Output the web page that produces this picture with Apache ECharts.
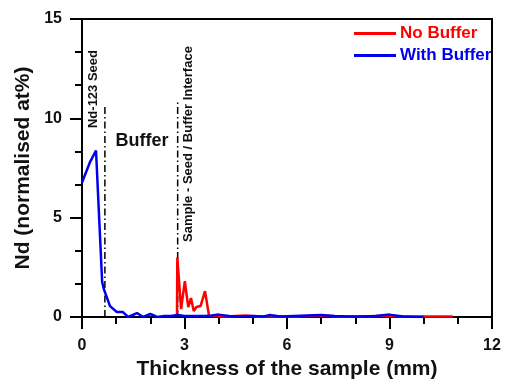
<!DOCTYPE html>
<html>
<head>
<meta charset="utf-8">
<script src="https://cdn.jsdelivr.net/npm/echarts@6/dist/echarts.min.js"></script>
<style>
  html, body { margin: 0; padding: 0; background: #fff; }
  #container { width: 505px; height: 385px; }
</style>
</head>
<body>
<div id="container"></div>
<script>
// 数据
var noBufferX = [2.78, 2.79, 2.9, 3.01, 3.11, 3.19, 3.27, 3.35, 3.47, 3.6, 3.72, 3.9, 4.2, 4.5, 4.8, 5.1, 5.4, 5.8, 6.2, 6.6, 7.0, 7.4, 7.8, 8.2, 8.6, 9.0, 9.4, 9.8, 10.2, 10.5, 10.85];
var noBufferY = [0.05, 3.0, 0.4, 1.8, 0.5, 0.95, 0.3, 0.5, 0.55, 1.3, 0.05, 0.05, 0.02, 0.05, 0.08, 0.03, 0.02, 0.02, 0.03, 0.05, 0.08, 0.03, 0.02, 0.02, 0.05, 0.05, 0.02, 0.02, 0.02, 0.02, 0.02];

var withBufferX = [0, 0.23, 0.41, 0.59, 0.64, 0.82, 1.02, 1.2, 1.35, 1.61, 1.79, 2.0, 2.2, 2.4, 2.6, 2.8, 3.0, 3.3, 3.6, 3.8, 4.0, 4.3, 4.6, 5.0, 5.3, 5.5, 5.8, 6.2, 6.6, 7.0, 7.4, 7.8, 8.2, 8.6, 9.0, 9.4, 9.8, 10.0];
var withBufferY = [6.77, 7.78, 8.38, 1.76, 1.4, 0.55, 0.25, 0.25, 0.0, 0.2, 0.0, 0.15, 0.0, 0.05, 0.05, 0.1, 0.05, 0.05, 0.05, 0.08, 0.12, 0.05, 0.02, 0.05, 0.02, 0.1, 0.02, 0.05, 0.08, 0.1, 0.05, 0.02, 0.02, 0.05, 0.12, 0.03, 0.0, 0.0];

// vertical dash-dot markers
var seedEdgeX = 0.67, seedEdgeTop = 10.65;
var interfaceX = 2.8, interfaceTop = 10.9;

var xTicks = [0, 3, 6, 9, 12];
var yTicks = [0, 5, 10, 15];

function pairs(xs, ys) {
  var out = [];
  for (var i = 0; i < xs.length; i++) out.push([xs[i], ys[i]]);
  return out;
}

var FONT = 'Liberation Sans, Arial, sans-serif';
var dashDot = [7, 3, 1.5, 3];

var dom = document.getElementById("container");
var myChart = echarts.init(dom);
var option = {
  backgroundColor: '#fff',
  animation: false,
  grid: {
    left: 82, right: 13, top: 19, bottom: 67,
    show: true, borderColor: '#000', borderWidth: 2, backgroundColor: 'transparent'
  },
  legend: {
    orient: 'vertical',
    left: 349, top: 20,
    itemWidth: 42, itemHeight: 3, itemGap: 5,
    icon: 'rect',
    data: [
      { name: 'No Buffer', textStyle: { color: '#ff0000' } },
      { name: 'With Buffer', textStyle: { color: '#0000ee' } }
    ],
    textStyle: { fontFamily: FONT, fontWeight: 'bold', fontSize: 17, padding: [0, 0, 0, -1] }
  },
  xAxis: {
    type: 'value',
    min: xTicks[0], max: xTicks[xTicks.length - 1], interval: 3,
    name: 'Thickness of the sample (mm)',
    nameLocation: 'middle', nameGap: 42,
    nameTextStyle: { fontFamily: FONT, fontWeight: 'bold', fontSize: 21, color: '#111' },
    axisLine: { lineStyle: { color: '#000', width: 2 } },
    axisTick: { length: 12, lineStyle: { color: '#000', width: 2 } },
    minorTick: { show: true, splitNumber: 3, length: 7, lineStyle: { color: '#000', width: 2 } },
    splitLine: { show: false },
    axisLabel: { margin: 21, fontFamily: FONT, fontWeight: 'bold', fontSize: 16, color: '#111' }
  },
  yAxis: {
    type: 'value',
    min: yTicks[0], max: yTicks[yTicks.length - 1], interval: 5,
    name: 'Nd (normalised at%)',
    nameLocation: 'middle', nameGap: 48,
    nameTextStyle: { fontFamily: FONT, fontWeight: 'bold', fontSize: 21, color: '#111' },
    axisLine: { show: true, lineStyle: { color: '#000', width: 2 } },
    axisTick: { show: true, length: 12, lineStyle: { color: '#000', width: 2 } },
    minorTick: { show: true, splitNumber: 3, length: 7, lineStyle: { color: '#000', width: 2 } },
    splitLine: { show: false },
    axisLabel: { margin: 20, fontFamily: FONT, fontWeight: 'bold', fontSize: 16, color: '#111' }
  },
  series: [
    {
      name: 'No Buffer',
      type: 'line',
      symbol: 'none',
      color: '#ff0000',
      lineStyle: { width: 2.5, color: '#ff0000' },
      data: pairs(noBufferX, noBufferY),
      z: 3
    },
    {
      name: 'With Buffer',
      type: 'line',
      symbol: 'none',
      color: '#0000ee',
      lineStyle: { width: 2.5, color: '#0000ee' },
      data: pairs(withBufferX, withBufferY),
      z: 4
    },
    {
      name: 'seed-edge',
      type: 'line',
      symbol: 'none',
      silent: true,
      lineStyle: { width: 1.5, color: '#000', type: dashDot },
      data: [[seedEdgeX, 0], [seedEdgeX, seedEdgeTop]],
      z: 2
    },
    {
      name: 'interface',
      type: 'line',
      symbol: 'none',
      silent: true,
      lineStyle: { width: 1.5, color: '#000', type: dashDot },
      data: [[interfaceX, 0], [interfaceX, interfaceTop]],
      z: 2
    }
  ],
  graphic: [
    {
      type: 'text', x: 93, y: 89, rotation: Math.PI / 2,
      style: { text: 'Nd-123 Seed', font: 'bold 13px ' + FONT, fill: '#111', align: 'center', verticalAlign: 'middle' }
    },
    {
      type: 'text', x: 142, y: 141,
      style: { text: 'Buffer', font: 'bold 18px ' + FONT, fill: '#111', align: 'center', verticalAlign: 'middle' }
    },
    {
      type: 'text', x: 188, y: 144, rotation: Math.PI / 2,
      style: { text: 'Sample - Seed / Buffer Interface', font: 'bold 13px ' + FONT, fill: '#111', align: 'center', verticalAlign: 'middle' }
    }
  ]
};
myChart.setOption(option, true);
window.onresize = myChart.resize;
</script>
</body>
</html>
